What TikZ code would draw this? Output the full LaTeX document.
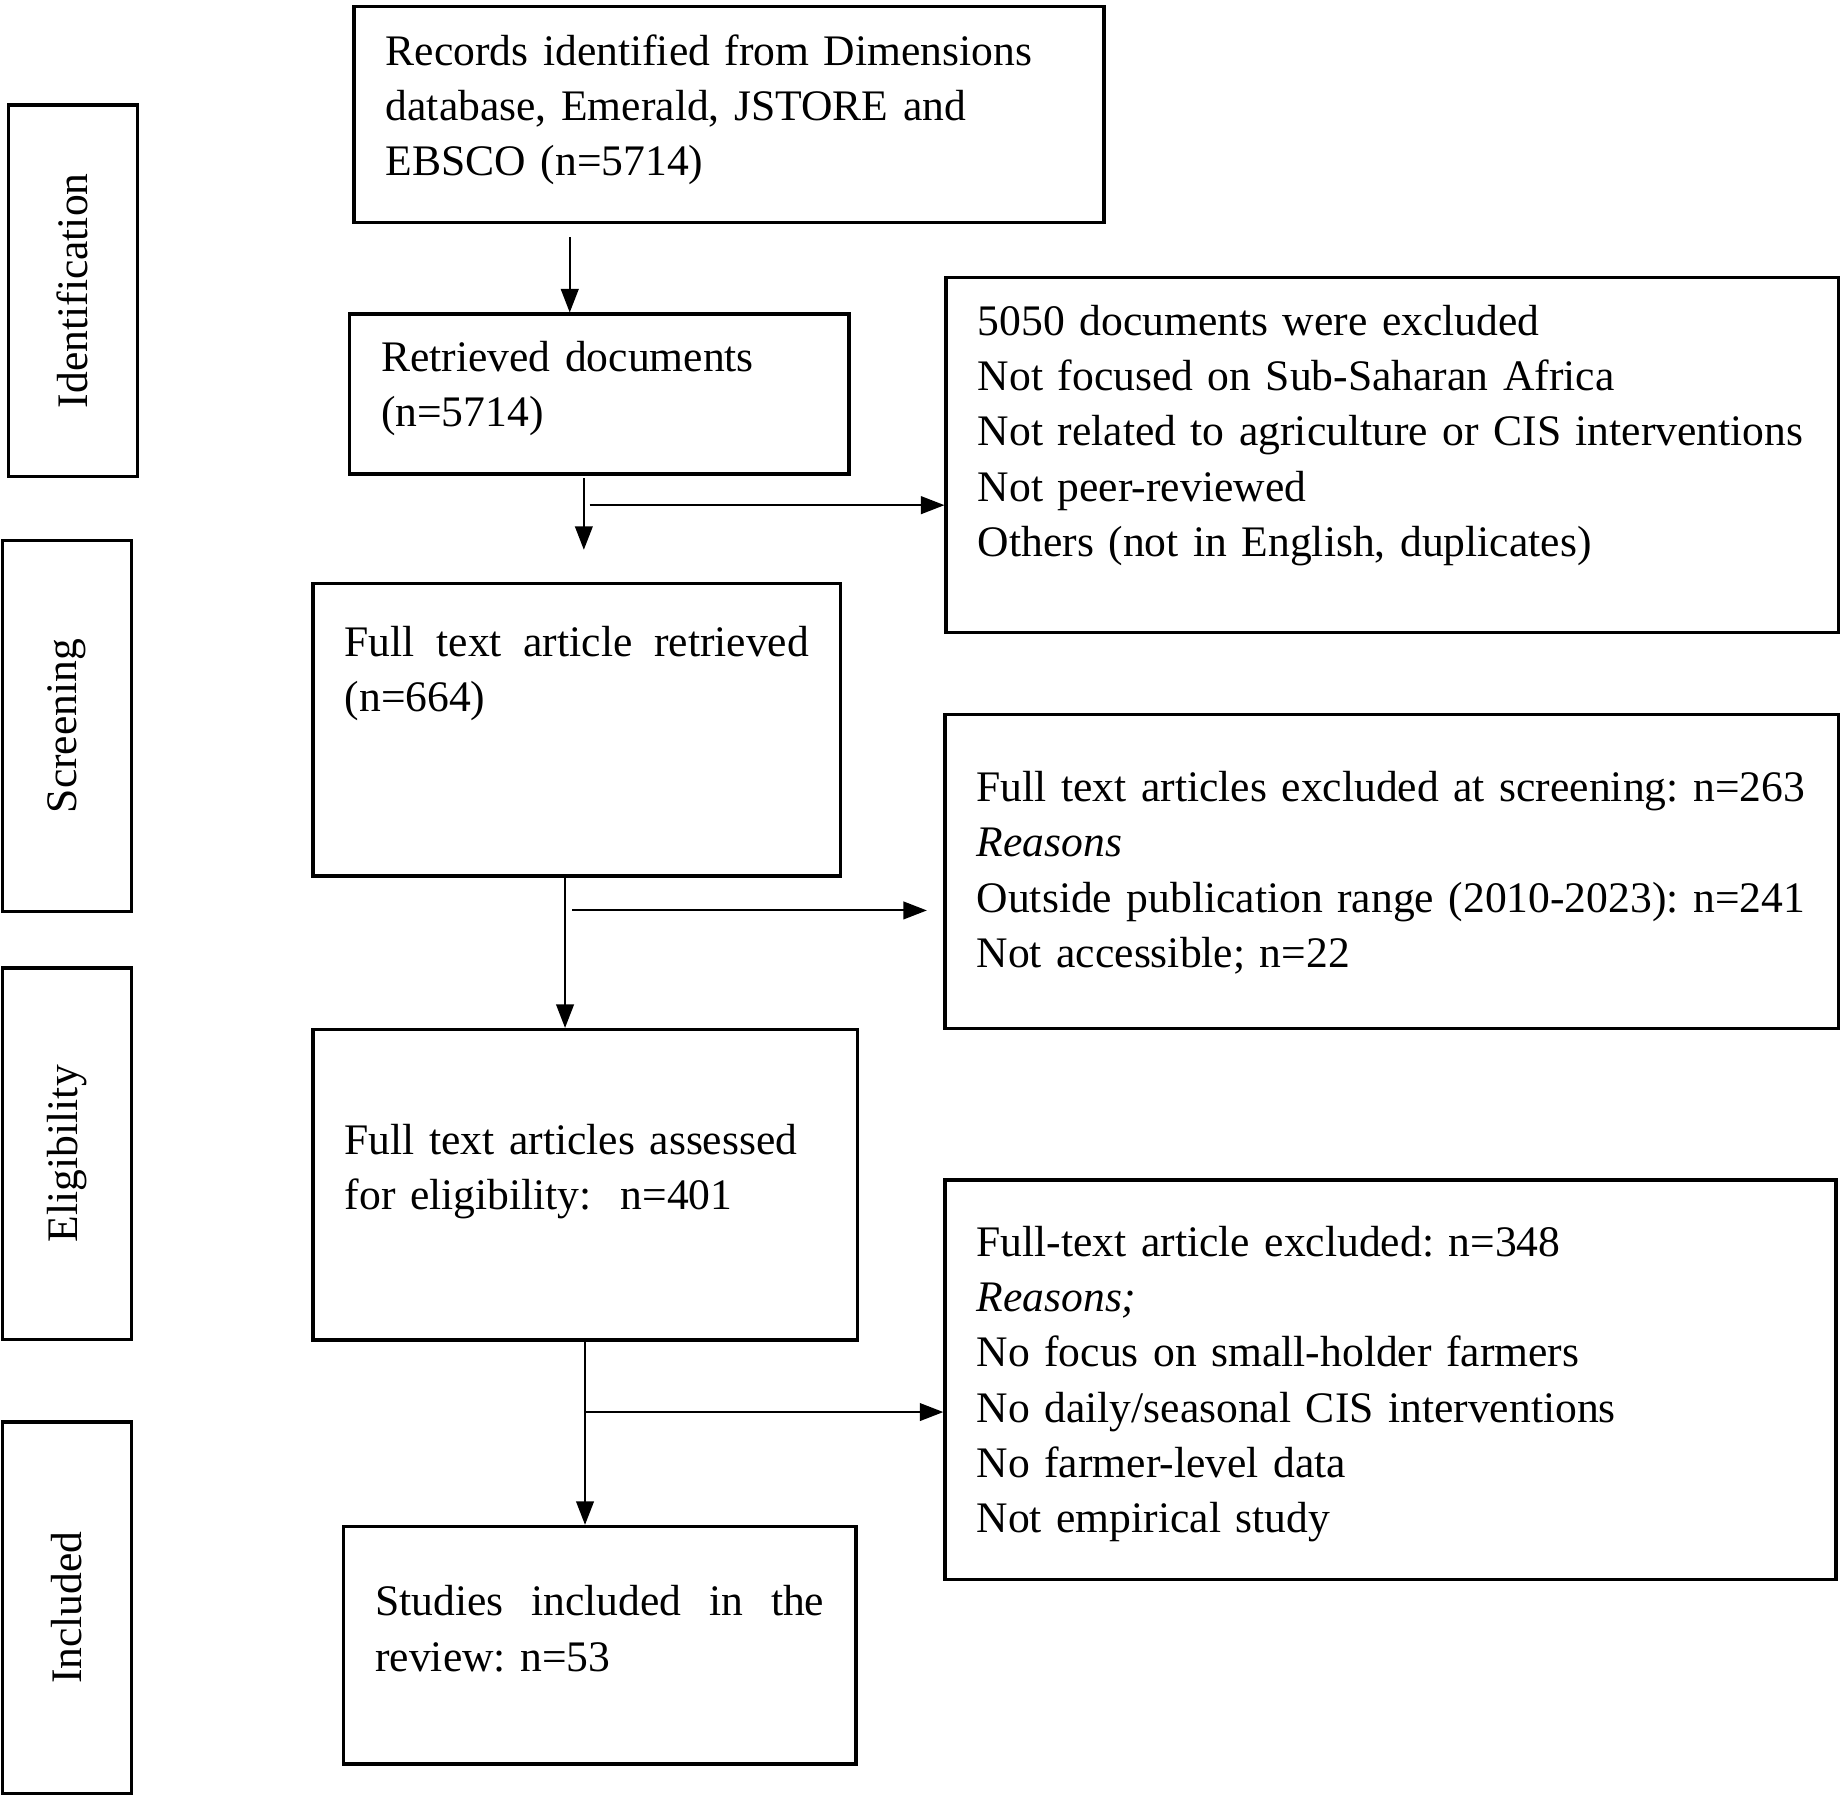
\documentclass[tikz,border=0pt]{standalone}
\usepackage{fontspec}
\setmainfont{Liberation Serif}
\usepackage{tikz}
\usetikzlibrary{arrows.meta,positioning,calc}

\newcommand{\bodyfont}{\fontsize{10.55}{13.37}\selectfont\frenchspacing}

\begin{document}
\begin{tikzpicture}[x=0.01cm, y=-0.01cm,
    box/.style={draw, line width=0.8pt, anchor=north west, align=left,
      inner xsep=0.27cm, inner ysep=0pt, font=\bodyfont},
    stage/.style={draw, line width=0.8pt, rotate=90, minimum width=3.16cm,
      minimum height=1.1cm, inner sep=0pt, font=\bodyfont},
    flow/.style={line width=0.5pt, -{Triangle[length=0.2cm, width=0.15cm]}}]
    \useasboundingbox (0,0) rectangle (1568,1529);

    % Stages
    \node[stage] (ident) at (62,247.5) {Identification};
    \node[stage] (screen) at (57,618) {Screening};
    \node[stage] (elig) at (57,982) {Eligibility};
    \node[stage] (incl) at (57,1368.5) {Included};

    % Main flow
    \node[box, text width=5.84cm, text height=0.50cm, text depth=1.34cm] (records) at (300,4)
        {Records identified from Dimensions\\database, Emerald, JSTORE and\\EBSCO (n=5714)};
    \node[box, text width=3.71cm, text height=0.49cm, text depth=0.87cm] (retrieved) at (296,266)
        {Retrieved documents\\(n=5714)};
    \node[box, text width=3.95cm, text height=0.62cm, text depth=1.87cm] (fulltext) at (265,495)
        {Full\hfill text\hfill article\hfill retrieved\\(n=664)};
    \node[box, text width=4.09cm, text height=1.06cm, text depth=1.58cm] (assessed) at (265,875)
        {Full text articles assessed\\for eligibility:\ \ n=401};
    \node[box, text width=3.82cm, text height=0.76cm, text depth=1.26cm] (included) at (291,1298)
        {Studies\hfill included\hfill in\hfill the\\review: n=53};

    % Exclusions
    \node[box, text width=7.05cm, text height=0.49cm, text depth=2.53cm] (excl1) at (804,235)
        {5050 documents were excluded\\Not focused on Sub-Saharan Africa\\
         \mbox{Not related to agriculture or CIS interventions}\\Not peer-reviewed\\
         Others (not in English, duplicates)};
    \node[box, text width=7.06cm, text height=0.74cm, text depth=1.93cm] (excl2) at (803,607)
        {\mbox{Full text articles excluded at screening: n=263}\\\textit{Reasons}\\
         \mbox{Outside publication range (2010-2023): n=241}\\Not accessible; n=22};
    \node[box, text width=7.04cm, text height=0.65cm, text depth=2.75cm] (excl3) at (803,1003)
        {Full-text article excluded: n=348\\\textit{Reasons;}\\No focus on small-holder farmers\\
         No daily/seasonal CIS interventions\\No farmer-level data\\Not empirical study};

    % Arrows
    \coordinate (a1) at (485,202);
    \coordinate (a2) at (497,407);
    \coordinate (a3) at (481,800);
    \coordinate (a4) at (498,1200);
    \coordinate (b1) at (502,430);
    \coordinate (b2) at (487,775);
    \coordinate (b3) at (498,1202);

    \draw[flow] (a1) -- (a1 |- retrieved.north);
    \draw[flow, shorten >=0.27cm] (a2) -- (a2 |- fulltext.north);
    \draw[flow] (b1) -- (b1 -| excl1.west);
    \draw[flow] (fulltext.south -| a3) -- (a3 |- assessed.north);
    \draw[flow, shorten >=0.14cm] (b2) -- (b2 -| excl2.west);
    \draw[flow] (assessed.south -| a4) -- (a4 |- included.north);
    \draw[flow] (b3) -- (b3 -| excl3.west);
\end{tikzpicture}
\end{document}
